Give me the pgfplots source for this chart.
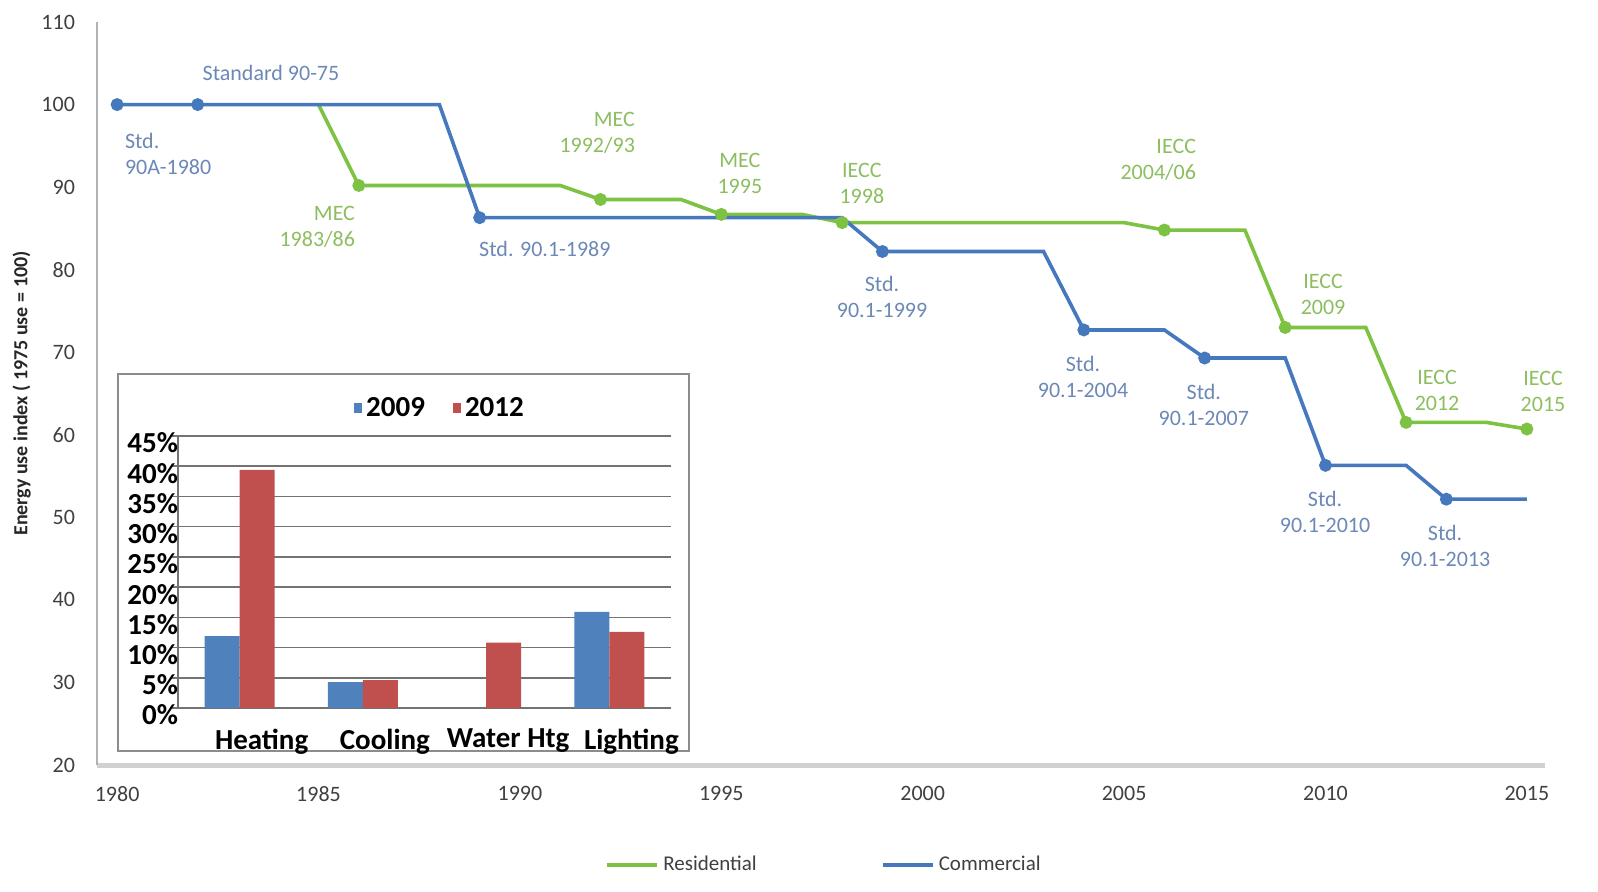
\documentclass[border=0pt]{standalone}
\usepackage{pgfplots}
\pgfplotsset{compat=1.18}
\usepackage{fontspec}
\setmainfont{Carlito}

\definecolor{resline}{RGB}{125,194,66}
\definecolor{comline}{RGB}{70,120,190}
\definecolor{restext}{RGB}{140,190,95}
\definecolor{comtext}{RGB}{108,136,182}
\definecolor{bar09}{RGB}{79,129,189}
\definecolor{bar12}{RGB}{192,80,77}

\begin{document}
\begin{tikzpicture}
\begin{axis}[
  at={(0pt,0pt)}, anchor=south west,
  scale only axis, width=724pt, height=371.5pt,
  xmin=1979.5, xmax=2015.45, ymin=20, ymax=110,
  axis x line*=bottom, axis y line*=left,
  x axis line style={draw=black!18, line width=2.5pt, -},
  y axis line style={draw=black!30, line width=1pt, -},
  xtick={1980,1985,...,2015}, ytick={20,30,...,110},
  major tick length=0pt,
  /pgf/number format/1000 sep={},
  /pgf/number format/assume math mode=true,
  ticklabel style={font=\fontsize{11}{13}\selectfont, text=black!75},
  xticklabel style={yshift=-7pt},
  yticklabel style={xshift=-7.5pt},
  ylabel={Energy use index ( 1975 use = 100)},
  ylabel style={at={(axis description cs:-0.052,0.5)}, anchor=center,
    font=\fontsize{10}{12}\selectfont\bfseries, text=black!85},
  clip=false,
  legend style={at={(364pt,-50pt)}, anchor=center, draw=none, fill=none,
    legend columns=2, font=\fontsize{10.5}{12}\selectfont, text=black!75,
    /tikz/every even column/.append style={column sep=60pt}},
  legend image code/.code={\draw[#1, line width=2pt] (0pt,0pt) -- (25pt,0pt);},
  every node/.append style={font=\fontsize{11}{13}\selectfont},
]
\addplot[resline, line width=1.8pt, mark=*, mark size=2.3pt,
  mark indices={2,4,6,8,10,12,14,16}] coordinates {
  (1985,100) (1986,90.2) (1991,90.2) (1992,88.5) (1994,88.5) (1995,86.7)
  (1997,86.7) (1998,85.7) (2005,85.7) (2006,84.8) (2008,84.8) (2009,73)
  (2011,73) (2012,61.5) (2014,61.5) (2015,60.7)
};
\addlegendentry{Residential}
\addplot[comline, line width=1.8pt, mark=*, mark size=2.3pt,
  mark indices={1,2,4,6,8,10,12,14}] coordinates {
  (1980,100) (1982,100) (1988,100) (1989,86.3) (1998,86.3) (1999,82.2)
  (2003,82.2) (2004,72.7) (2006,72.7) (2007,69.3) (2009,69.3) (2010,56.3)
  (2012,56.3) (2013,52.2) (2015,52.2)
};
\addlegendentry{Commercial}

% annotations
\begin{scope}[every node/.style={font=\fontsize{11}{13}\selectfont, text=comtext}]
\node at (axis cs:1983.82,103.8) {Standard 90-75};
\node[anchor=west, align=left] at (axis cs:1980.02,94.0) {Std.\\90A-1980};
\node at (axis cs:1990.62,82.5) {Std. 90.1-1989};
\node[align=center] at (axis cs:1998.99,76.7) {Std.\\90.1-1999};
\node[align=center] at (axis cs:2003.98,67.0) {Std.\\90.1-2004};
\node[align=center] at (axis cs:2006.98,63.6) {Std.\\90.1-2007};
\node[align=center] at (axis cs:2009.99,50.6) {Std.\\90.1-2010};
\node[align=center] at (axis cs:2012.97,46.5) {Std.\\90.1-2013};
\end{scope}
\begin{scope}[every node/.style={font=\fontsize{11}{13}\selectfont, text=restext}]
\node[anchor=east, align=right] at (axis cs:1986.08,85.2) {MEC\\1983/86};
\node[anchor=east, align=right] at (axis cs:1993.03,96.55) {MEC\\1992/93};
\node[align=center] at (axis cs:1995.46,91.7) {MEC\\1995};
\node[align=center] at (axis cs:1998.49,90.5) {IECC\\1998};
\node[anchor=east, align=right] at (axis cs:2006.96,93.3) {IECC\\2004/06};
\node[align=center] at (axis cs:2009.94,77.05) {IECC\\2009};
\node[align=center] at (axis cs:2012.77,65.4) {IECC\\2012};
\node[align=center] at (axis cs:2015.4,65.2) {IECC\\2015};
\end{scope}
\end{axis}

% inset frame
\draw[black!45, line width=0.8pt, fill=white] (10.5pt,7pt) rectangle (296pt,195.5pt);

\begin{axis}[
  at={(40.5pt,28.5pt)}, anchor=south west,
  scale only axis, width=246.5pt, height=136pt,
  xmin=-0.5, xmax=3.5, ymin=0, ymax=45,
  axis x line*=bottom, axis y line*=left,
  axis line style={draw=black!55, line width=0.8pt, -},
  ybar=0pt, bar width=17.5pt,
  ytick={0,5,...,45},
  yticklabel={\pgfmathprintnumber{\tick}\%},
  ymajorgrids, grid style={black!55, line width=0.8pt},
  xtick={0,1,2,3},
  xticklabels={Heating,Cooling,Water Htg,Lighting},
  major x tick style={draw=none},
  extra x ticks={-0.5,0.5,1.5,2.5,3.5},
  extra x tick labels={},
  extra x tick style={major tick length=4pt, tick align=outside,
    tick style={draw=black!55, line width=0.8pt}},
  major y tick style={draw=black!55, line width=0.8pt},
  ytick align=outside, major tick length=3pt,
  /pgf/number format/assume math mode=true,
  ticklabel style={font=\fontsize{14.5}{16}\selectfont\bfseries},
  yticklabel style={xshift=6.5pt, yshift=-3.5pt},
  xticklabel style={xshift=11pt, yshift=-4pt},
  legend style={at={(131.5pt,150pt)}, anchor=center, draw=none, fill=none,
    legend columns=2, font=\fontsize{14.5}{16}\selectfont\bfseries,
    /tikz/every even column/.append style={column sep=12pt}},
  legend image code/.code={\fill[#1] (0pt,-2.5pt) rectangle (4pt,2.5pt);},
]
\addplot[fill=bar09, draw=none] coordinates {(0,11.9) (1,4.3) (2,0) (3,15.9)};
\addlegendentry{2009}
\addplot[fill=bar12, draw=none] coordinates {(0,39.4) (1,4.6) (2,10.8) (3,12.6)};
\addlegendentry{2012}
\end{axis}

\pgfresetboundingbox
\path (-48.5pt,-63pt) rectangle (750.5pt,382.5pt);
\end{tikzpicture}
\end{document}
